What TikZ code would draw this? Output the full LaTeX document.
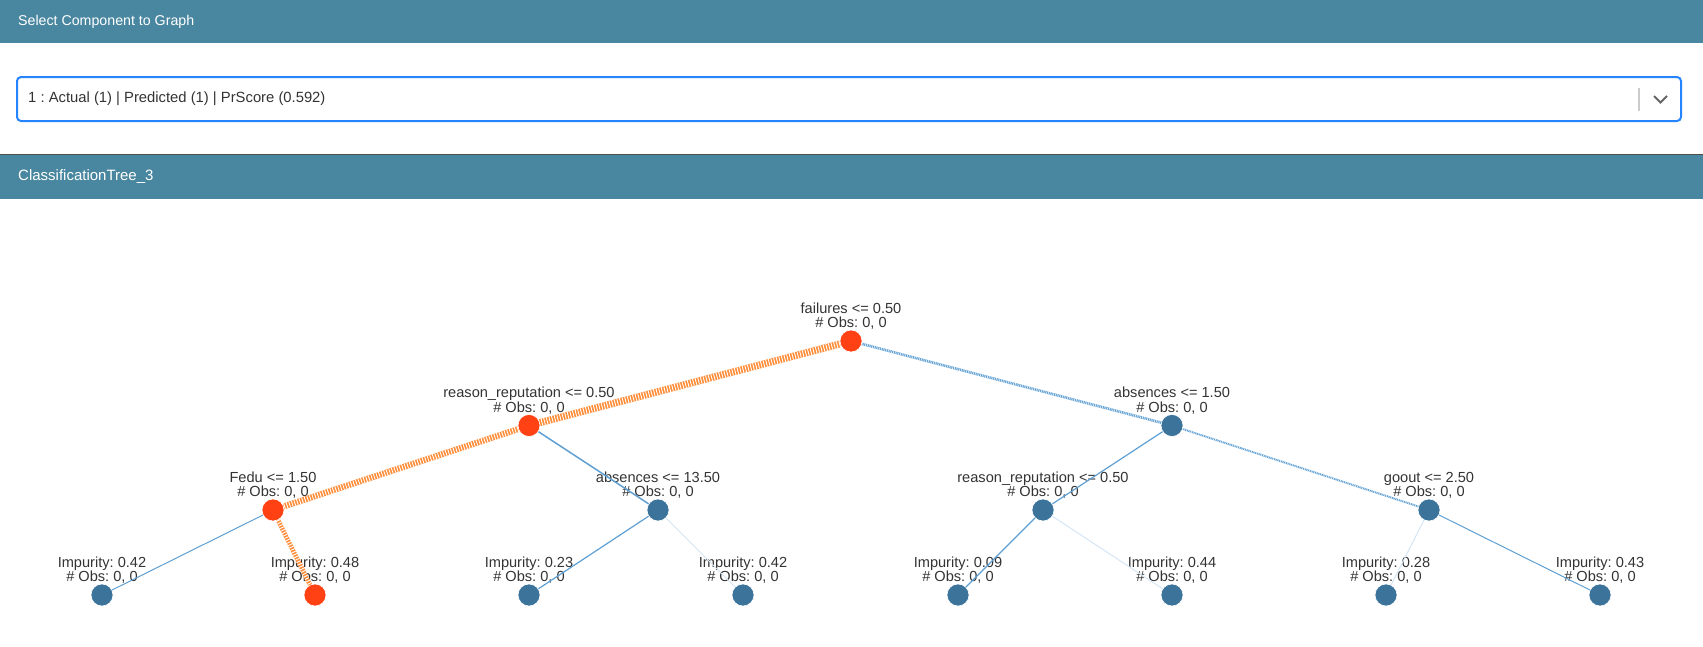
\documentclass[tikz,border=0pt]{standalone}
\usepackage{fontspec}
\setmainfont{Liberation Sans}
\usetikzlibrary{positioning}
\frenchspacing

\definecolor{barblue}{RGB}{73,135,160}
\definecolor{boxblue}{RGB}{38,132,255}
\definecolor{txtgray}{RGB}{51,51,51}
\definecolor{hotnode}{RGB}{255,65,20}
\definecolor{coldnode}{RGB}{59,115,155}
\definecolor{hotedge}{RGB}{255,140,55}
\definecolor{coldedge}{RGB}{95,160,212}
\definecolor{paleedge}{RGB}{212,230,245}

\tikzset{
    hot/.style={draw=hotedge,line width=#1,
        postaction={draw=white,line width=#1,dash pattern=on 0.9pt off 1.8pt}},
    coldhatch/.style={draw=coldedge,line width=#1,
        postaction={draw=white,line width=#1,dash pattern=on 0.5pt off 1.3pt}},
    cold/.style={draw=coldedge,line width=#1},
    pale/.style={draw=paleedge,line width=1pt}
}

\begin{document}
\begin{tikzpicture}[x=1pt,y=-1pt]
    \useasboundingbox (0,0) rectangle (1703,646);

    % header and selector
    \fill[barblue] (0,0) rectangle (1703,43);
    \fill[barblue] (0,155) rectangle (1703,199);
    \draw[black!70,line width=1pt] (0,154.5) -- (1703,154.5);
    \draw[boxblue,line width=2pt,rounded corners=4pt] (17,77) rectangle (1681,121);
    \draw[black!20,line width=1.5pt] (1639,88) -- (1639,111);
    \draw[black!60,line width=2pt] (1654,96) -- (1660.5,102.5) -- (1667,96);
    \begin{scope}[every node/.style={anchor=west,inner sep=0pt}]
        \node[text=white,font=\fontsize{14.2}{16}\selectfont] (select) at (18,22) {Select Component to Graph};
        \node[text=txtgray,font=\fontsize{14.8}{16}\selectfont] (choice) at (28,99) {1 : Actual (1) | Predicted (1) | PrScore (0.592)};
        \node[text=white,font=\fontsize{15}{16}\selectfont] (treename) at (18,177) {ClassificationTree\_3};
    \end{scope}

    % tree nodes
    \begin{scope}[every node/.style={circle,minimum size=22pt,inner sep=0pt,draw=white,line width=0.6pt}]
        \node[fill=hotnode] (failures) at (851,341) {};
        \node[fill=hotnode] (rrep) at (529,425.5) {};
        \node[fill=coldnode] (absA) at (1172,425.5) {};
        \node[fill=hotnode] (fedu) at (273,510) {};
        \node[fill=coldnode] (absB) at (658,510) {};
        \node[fill=coldnode] (rrepB) at (1043,510) {};
        \node[fill=coldnode] (goout) at (1429,510) {};
        \node[fill=coldnode] (leaf1) at (102,595) {};
        \node[fill=hotnode] (leaf2) at (315,595) {};
        \node[fill=coldnode] (leaf3) at (529,595) {};
        \node[fill=coldnode] (leaf4) at (743,595) {};
        \node[fill=coldnode] (leaf5) at (958,595) {};
        \node[fill=coldnode] (leaf6) at (1172,595) {};
        \node[fill=coldnode] (leaf7) at (1386,595) {};
        \node[fill=coldnode] (leaf8) at (1600,595) {};
    \end{scope}

    % labels
    \begin{scope}[every node/.style={align=center,inner sep=0pt,text=txtgray,
            font=\fontsize{14.6}{14.5}\selectfont}]
        \node[above=0pt of failures] (failures-t) {failures <= 0.50\\\# Obs: 0, 0};
        \node[above=0pt of rrep] (rrep-t) {reason\_reputation <= 0.50\\\# Obs: 0, 0};
        \node[above=0pt of absA] (absA-t) {absences <= 1.50\\\# Obs: 0, 0};
        \node[above=0pt of fedu] (fedu-t) {Fedu <= 1.50\\\# Obs: 0, 0};
        \node[above=0pt of absB] (absB-t) {absences <= 13.50\\\# Obs: 0, 0};
        \node[above=0pt of rrepB] (rrepB-t) {reason\_reputation <= 0.50\\\# Obs: 0, 0};
        \node[above=0pt of goout] (goout-t) {goout <= 2.50\\\# Obs: 0, 0};
        \node[above=0pt of leaf1] (leaf1-t) {Impurity: 0.42\\\# Obs: 0, 0};
        \node[above=0pt of leaf2] (leaf2-t) {Impurity: 0.48\\\# Obs: 0, 0};
        \node[above=0pt of leaf3] (leaf3-t) {Impurity: 0.23\\\# Obs: 0, 0};
        \node[above=0pt of leaf4] (leaf4-t) {Impurity: 0.42\\\# Obs: 0, 0};
        \node[above=0pt of leaf5] (leaf5-t) {Impurity: 0.09\\\# Obs: 0, 0};
        \node[above=0pt of leaf6] (leaf6-t) {Impurity: 0.44\\\# Obs: 0, 0};
        \node[above=0pt of leaf7] (leaf7-t) {Impurity: 0.28\\\# Obs: 0, 0};
        \node[above=0pt of leaf8] (leaf8-t) {Impurity: 0.43\\\# Obs: 0, 0};
    \end{scope}

    % branches
    \path (failures) edge[hot=7pt] (rrep);
    \path (rrep) edge[hot=6pt] (fedu);
    \path (fedu) edge[hot=4.5pt] (leaf2);
    \path (fedu) edge[cold=1pt] (leaf1);
    \path (rrep) edge[cold=1.5pt] (absB);
    \path (absB) edge[cold=1.2pt] (leaf3);
    \path (absB) edge[pale] (leaf4);
    \path (failures) edge[coldhatch=2.5pt] (absA);
    \path (absA) edge[cold=1.2pt] (rrepB);
    \path (absA) edge[coldhatch=1.8pt] (goout);
    \path (rrepB) edge[cold=1.2pt] (leaf5);
    \path (rrepB) edge[pale] (leaf6);
    \path (goout) edge[pale] (leaf7);
    \path (goout) edge[cold=1pt] (leaf8);
\end{tikzpicture}
\end{document}
